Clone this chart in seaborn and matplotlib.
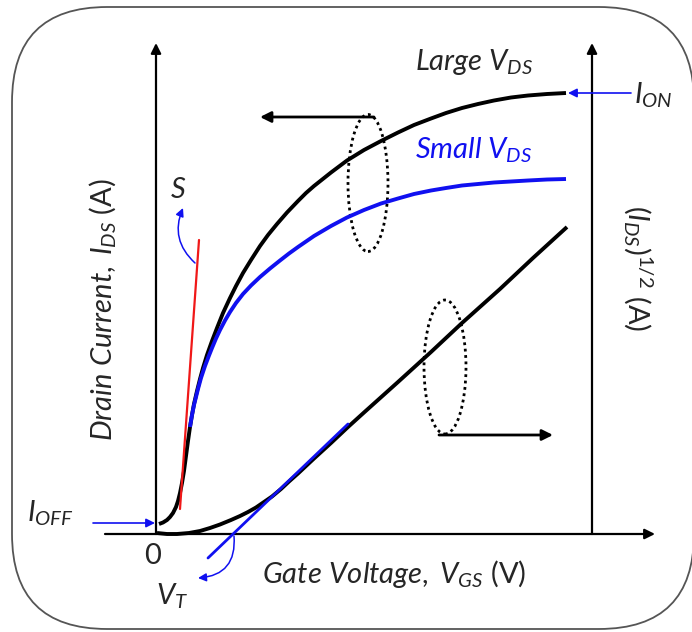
import matplotlib
matplotlib.use("Agg")
import matplotlib.pyplot as plt
from matplotlib.patches import Ellipse, FancyBboxPatch
import seaborn as sns
import pandas as pd

# Transfer characteristics of a FET, arbitrary units (origin at V_GS = 0, I_DS = 0)
vgs_large = [3, 7, 11, 14, 17, 20, 22, 24, 26, 28, 30, 32, 34, 36, 38, 41, 44, 47, 51, 56,
             61, 67, 74, 80, 87, 95, 104, 112, 121, 131, 142, 150, 158, 175, 191, 208, 225,
             242, 258, 275, 290, 306, 322, 338, 355, 372, 391, 410]
ids_large = [10, 11.5, 14, 17, 21, 27, 33, 41, 51, 63, 78, 93, 107, 119, 130, 143, 155, 166,
             179, 193, 206, 221, 236, 248, 261, 274, 288, 299, 310, 321.5, 333, 341, 348,
             361.5, 373.5, 384, 393, 401.5, 409, 415.5, 421, 426, 430, 433.5, 436.5, 438.5,
             440, 441]

vgs_small = [34, 36, 38, 40, 42, 45, 49, 53, 56, 60, 64, 69, 74, 80, 87, 95, 104, 114, 124,
             133, 142, 158, 175, 191, 208, 225, 242, 258, 275, 290, 306, 322, 338, 355, 372,
             391, 410]
ids_small = [107, 119, 129, 137, 145, 156, 168, 178.5, 186, 195.5, 204, 213.5, 222, 231, 240,
             248.5, 257, 265.5, 273.5, 280.5, 287, 298, 308, 316.5, 324, 330.5, 335.5, 340,
             343.5, 346, 348.5, 350, 351.5, 352.5, 353.5, 354.5, 355]

vgs_sqrt = [1, 11, 21, 33, 44, 54, 64, 75, 84, 92, 100, 108, 116, 125, 133, 142, 158, 175,
            192, 208, 242, 275, 306, 344, 377, 411]
sqrt_ids = [1, 0, 0, 1, 3, 6, 9.5, 14, 18, 22, 26.5, 32, 37.5, 45, 52.5, 60.5, 75.5, 91, 107,
            121.5, 152, 182, 211, 245, 276, 307]

# Extrapolated linear region (threshold voltage) and subthreshold slope tangent
vt_line_x = [52, 192]
vt_line_y = [-24, 110]
slope_line_x = [24, 43]
slope_line_y = [25, 294]

TEXT = "#262626"
BLUE = "#1010f0"
RED = "#f01818"

sns.set_theme(style="white")
plt.rcParams["mathtext.fontset"] = "custom"
plt.rcParams["mathtext.rm"] = "Lato"
plt.rcParams["mathtext.it"] = "Lato:italic"
plt.rcParams["font.family"] = ["Lato", "DejaVu Sans"]

fig = plt.figure(figsize=(6.92, 6.32), dpi=100)
ax = fig.add_axes([0, 0, 1, 1])
ax.set_xlim(-156, 536)
ax.set_ylim(-98, 534)
ax.axis("off")

# Rounded frame
frame = FancyBboxPatch((-144, -95), 682, 622,
                       boxstyle="round,pad=0,rounding_size=95",
                       fc="white", ec="#555555", lw=1.3, clip_on=False, zorder=0)
ax.add_patch(frame)


def arrow(start, tip, color="black", lw=1.6, ms=14, conn="arc3,rad=0"):
    ax.annotate("", xy=tip, xytext=start,
                arrowprops=dict(arrowstyle="-|>", color=color, lw=lw, mutation_scale=ms,
                                shrinkA=0, shrinkB=0, connectionstyle=conn), zorder=3)


# Axes (left: I_DS, right: sqrt(I_DS), bottom: V_GS)
arrow((0, 0), (0, 491), lw=1.6, ms=15)
arrow((436, 0), (436, 491), lw=1.6, ms=15)
arrow((-51, 0), (499, 0), lw=1.6, ms=15)

curves = pd.DataFrame({
    "vgs": vgs_large + vgs_small + vgs_sqrt,
    "val": ids_large + ids_small + sqrt_ids,
    "curve": (["large"] * len(vgs_large) + ["small"] * len(vgs_small)
              + ["sqrt"] * len(vgs_sqrt)),
})
sns.lineplot(data=curves, x="vgs", y="val", hue="curve",
             palette={"large": "black", "small": BLUE, "sqrt": "black"},
             estimator=None, sort=False, lw=2.8, legend=False, ax=ax, zorder=4,
             solid_joinstyle="round", solid_capstyle="butt")

ax.plot(slope_line_x, slope_line_y, color=RED, lw=1.6, zorder=5)
ax.plot(vt_line_x, vt_line_y, color=BLUE, lw=2.0, zorder=5)

# Grouping ellipses with pointers to the relevant axis
ax.add_patch(Ellipse((212, 351), 40, 137, fill=False, ec="black", lw=2.0,
                     ls=(0, (1, 1.3)), zorder=3))
ax.add_patch(Ellipse((289, 167), 42, 134, fill=False, ec="black", lw=2.0,
                     ls=(0, (1, 1.3)), zorder=3))
arrow((218, 417), (104, 417), lw=2.0, ms=16)
arrow((283, 99), (397, 99), lw=2.0, ms=16)

# Blue callouts
arrow((475, 441), (412, 441), color=BLUE, lw=1.2, ms=13)
arrow((-63, 11), (-1, 11), color=BLUE, lw=1.2, ms=13)
arrow((39, 271), (27, 326), color=BLUE, lw=1.1, ms=12, conn="arc3,rad=-0.35")
arrow((78, -2), (42, -44), color=BLUE, lw=1.1, ms=12, conn="arc3,rad=-0.5")

fs = 21
ax.text(318, 472, r"Large $V_{DS}$", fontsize=fs, style="italic", color=TEXT,
        ha="center", va="center")
ax.text(318, 384, r"Small $V_{DS}$", fontsize=fs, style="italic", color=BLUE,
        ha="center", va="center")
ax.text(478, 439, r"$I_{ON}$", fontsize=fs, color=TEXT, ha="left", va="center")
ax.text(-106, 21, r"$I_{OFF}$", fontsize=fs, color=TEXT, ha="center", va="center")
ax.text(22, 344, r"$S$", fontsize=fs, color=TEXT, ha="center", va="center")
ax.text(-3, -22, "0", fontsize=fs, color=TEXT, ha="center", va="center")
ax.text(16, -62, r"$V_T$", fontsize=fs, color=TEXT, ha="center", va="center")
ax.text(238, -40, r"$\mathit{Gate\ Voltage,}\;V_{GS}\ \mathrm{(V)}$", fontsize=fs,
        color=TEXT, ha="center", va="center")
ax.text(-53, 224, r"$\mathit{Drain\ Current,}\;I_{DS}\ \mathrm{(A)}$", fontsize=fs,
        color=TEXT, ha="center", va="center", rotation=90)
ax.text(482, 266, r"$(I_{DS})^{1/2}\ \mathrm{(A)}$", fontsize=fs,
        color=TEXT, ha="center", va="center", rotation=270)

fig.savefig("out.png", dpi=100)
